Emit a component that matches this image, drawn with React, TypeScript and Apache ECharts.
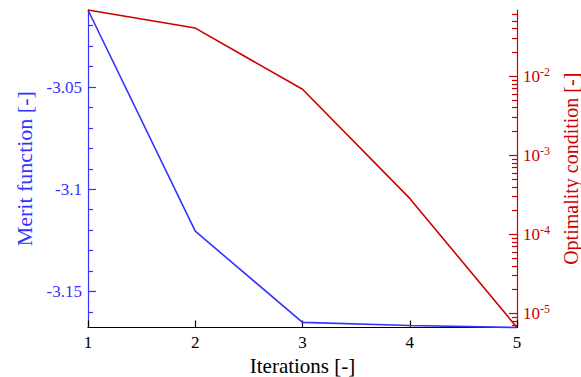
import React, { useEffect, useRef } from "react";
import * as echarts from "echarts";

// Optimisation history
const iterations = [1, 2, 3, 4, 5];
const meritFunction = [-3.0123, -3.1205, -3.1651, -3.1666, -3.1676];
const optimality = [6.89e-2, 4.07e-2, 6.84e-3, 2.85e-4, 6.63e-6];

// Axis ranges and ticks
const meritRange = [-3.1676, -3.0123];
const meritMajor = [-3.15, -3.1, -3.05];
const meritMinor = [-3.16, -3.14, -3.13, -3.12, -3.11, -3.09, -3.08, -3.07, -3.06, -3.04, -3.03, -3.02];
const optimalityRange = [6.63e-6, 6.89e-2];
const optimalityDecades = [-5, -4, -3, -2];
const mantissas = [2, 3, 4, 5, 6, 7, 8, 9];

const BLUE = "#3333ff";
const RED = "#cc0000";
const FONT = "'Liberation Serif', 'DejaVu Serif', serif";

export default function App() {
  const ref = useRef<HTMLDivElement>(null);

  useEffect(() => {
    if (!ref.current) return;
    const chart = echarts.init(ref.current, null, { renderer: "svg" });

    const logMin = Math.log10(optimalityRange[0]);
    const logMax = Math.log10(optimalityRange[1]);
    const logMinor: number[] = [];
    for (let d = -6; d <= -1; d++) {
      for (const m of mantissas) {
        const v = Math.log10(m) + d;
        if (v >= logMin && v <= logMax) logMinor.push(v);
      }
    }

    const hiddenAxisParts = {
      axisLine: { show: false },
      axisLabel: { show: false },
      splitLine: { show: false },
    };

    chart.setOption({
      animation: false,
      grid: { left: 88, right: 64, top: 10, bottom: 49.5, outerBoundsMode: "none", containLabel: false },
      xAxis: {
        type: "value",
        min: 1,
        max: 5,
        interval: 1,
        name: "Iterations [-]",
        nameLocation: "middle",
        nameGap: 18,
        nameTextStyle: { fontFamily: FONT, fontSize: 21, color: "#000", lineHeight: 21 },
        axisLine: { lineStyle: { color: "#000", width: 1.2 } },
        axisTick: { inside: true, length: 7, lineStyle: { color: "#000", width: 1.2 } },
        axisLabel: { fontFamily: FONT, fontSize: 17, color: "#000", margin: 6 },
        splitLine: { show: false },
      },
      yAxis: [
        {
          type: "value",
          position: "left",
          min: meritRange[0],
          max: meritRange[1],
          name: "Merit function [-]",
          nameLocation: "middle",
          nameGap: 52,
          nameTextStyle: { fontFamily: FONT, fontSize: 22, color: BLUE },
          axisLine: { show: true, lineStyle: { color: BLUE, width: 1.2 } },
          axisTick: { inside: true, length: 8, customValues: meritMajor, lineStyle: { color: BLUE, width: 1.2 } },
          axisLabel: {
            customValues: meritMajor,
            fontFamily: FONT,
            fontSize: 17,
            color: BLUE,
            margin: 6,
            formatter: (v: number) => String(Number(v.toFixed(2))),
          },
          splitLine: { show: false },
        },
        {
          type: "value",
          position: "left",
          min: meritRange[0],
          max: meritRange[1],
          ...hiddenAxisParts,
          axisTick: { inside: true, length: 5, customValues: meritMinor, lineStyle: { color: BLUE, width: 1.2 } },
        },
        {
          type: "value",
          position: "right",
          min: logMin,
          max: logMax,
          name: "Optimality condition [-]",
          nameLocation: "middle",
          nameGap: 40,
          nameTextStyle: { fontFamily: FONT, fontSize: 20, color: RED },
          axisLine: { show: true, lineStyle: { color: RED, width: 1.2 } },
          axisTick: { inside: true, length: 8, customValues: optimalityDecades, lineStyle: { color: RED, width: 1.2 } },
          axisLabel: {
            customValues: optimalityDecades,
            margin: 6,
            color: RED,
            formatter: (v: number) => `{b|10}{s|${Math.round(v)}}`,
            rich: {
              b: { fontFamily: FONT, fontSize: 17, color: RED },
              s: { fontFamily: FONT, fontSize: 12, color: RED, padding: [0, 0, 9, 0] },
            },
          },
          splitLine: { show: false },
        },
        {
          type: "value",
          position: "right",
          min: logMin,
          max: logMax,
          ...hiddenAxisParts,
          axisTick: { inside: true, length: 5, customValues: logMinor, lineStyle: { color: RED, width: 1.2 } },
        },
      ],
      series: [
        {
          type: "line",
          yAxisIndex: 0,
          data: iterations.map((x, i) => [x, meritFunction[i]]),
          showSymbol: false,
          lineStyle: { color: BLUE, width: 1.6 },
          clip: false,
        },
        {
          type: "line",
          yAxisIndex: 2,
          data: iterations.map((x, i) => [x, Math.log10(optimality[i])]),
          showSymbol: false,
          lineStyle: { color: RED, width: 1.6 },
          clip: false,
        },
      ],
    });

    return () => chart.dispose();
  }, []);

  return (
    <div
      ref={ref}
      style={{ position: "absolute", left: 0, top: 0, width: 581, height: 377, background: "#fff" }}
    />
  );
}
